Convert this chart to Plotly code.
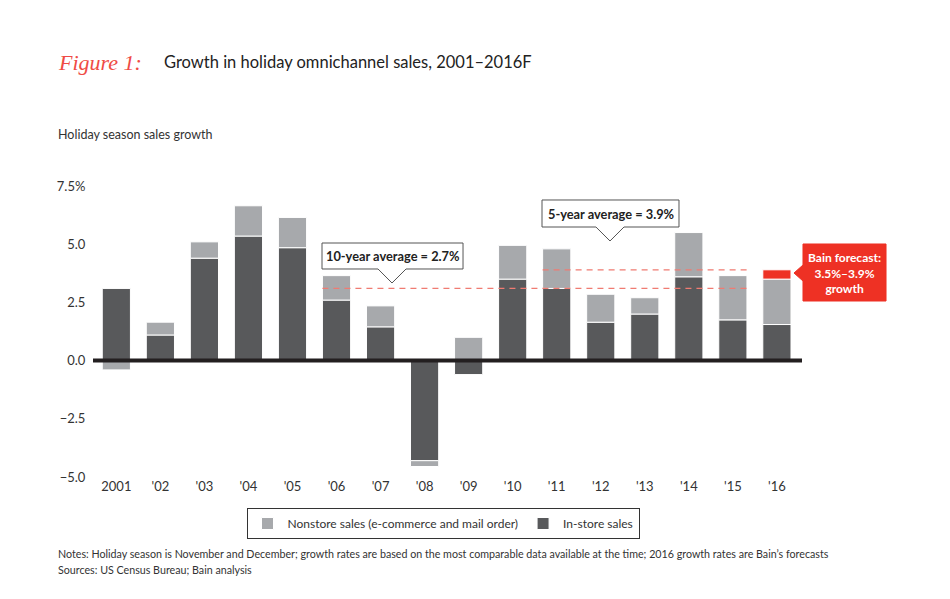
# Holiday omnichannel sales growth, 2001-2016F (stacked bars + average callouts)
import plotly.graph_objects as go

# data
years = ["2001", "'02", "'03", "'04", "'05", "'06", "'07", "'08",
         "'09", "'10", "'11", "'12", "'13", "'14", "'15", "'16"]
instore = [3.1, 1.1, 4.4, 5.35, 4.85, 2.6, 1.45, -4.3,
           -0.6, 3.5, 3.1, 1.65, 2.0, 3.6, 1.75, 1.55]
nonstore = [-0.4, 0.55, 0.7, 1.3, 1.3, 1.05, 0.9, -0.25,
            1.0, 1.45, 1.7, 1.2, 0.7, 1.9, 1.9, 1.95]
forecast_extra = [None] * 15 + [0.4]   # 3.5% -> 3.9% range for 2016

ten_year_line = 3.1     # position of the dashed line as drawn
five_year_line = 3.9
ten_year_span = (5, 14)   # '06 .. '15
five_year_span = (10, 14)  # '11 .. '15

ytick_vals = [7.5, 5.0, 2.5, 0.0, -2.5, -5.0]
ytick_text = ["7.5%", "5.0", "2.5", "0.0", "\u22122.5", "\u22125.0"]

DARK = "#58595b"
LIGHT = "#a7a9ac"
RED = "#ee3124"
FONT = "Lato"

# plot area in screen pixels (the page body adds an 8px margin)
L, R, T, B = 93, 802, 186, 477
OFF = 8
W, H = 950 - OFF, 599 - OFF


def px(x):
    return (x - L) / (R - L)


def py(y):
    return (B - y) / (B - T)


def bubble_down(x0, y0, x1, y1, tx, ty, half):
    pts = [(x0, y0), (x1, y0), (x1, y1), (tx + half, y1), (tx, ty),
           (tx - half, y1), (x0, y1)]
    return "M " + " L ".join(f"{px(a):.4f},{py(b):.4f}" for a, b in pts) + " Z"


def bubble_left(x0, y0, x1, y1, tx, ty, half):
    pts = [(x0, y0), (x1, y0), (x1, y1), (x0, y1), (x0, ty + half),
           (tx, ty), (x0, ty - half)]
    return "M " + " L ".join(f"{px(a):.4f},{py(b):.4f}" for a, b in pts) + " Z"


def text_at(x, y, text, size, color="#333333", xanchor="center", **kw):
    fig.add_annotation(x=px(x), y=py(y), xref="paper", yref="paper",
                       xanchor=xanchor, yanchor="middle", showarrow=False,
                       text=text, font=dict(size=size, color=color, **kw))


fig = go.Figure()
fig.add_trace(go.Bar(x=years, y=instore, name="In-store sales",
                     marker=dict(color=DARK, line=dict(color="white", width=1))))
fig.add_trace(go.Bar(x=years, y=nonstore, name="Nonstore sales (e-commerce and mail order)",
                     marker=dict(color=LIGHT, line=dict(color="white", width=1))))
fig.add_trace(go.Bar(x=years, y=forecast_extra, showlegend=False,
                     marker=dict(color=RED, line=dict(color="white", width=1))))

fig.update_layout(
    width=W, height=H,
    margin=dict(l=L - OFF, r=W - (R - OFF), t=T - OFF, b=H - (B - OFF)),
    barmode="relative", bargap=0.36,
    plot_bgcolor="white", paper_bgcolor="white",
    font=dict(family=FONT, color="#333333", size=12),
    showlegend=True,
    legend=dict(orientation="h", traceorder="reversed",
                x=px(443), xanchor="center", y=py(508), yanchor="top",
                bordercolor="#333333", borderwidth=1,
                font=dict(size=12, color="#333333")),
)
fig.update_xaxes(range=[-0.53, 15.57], showline=False, showgrid=False,
                 ticks="", tickfont=dict(size=13, color="#333333"))
fig.update_yaxes(range=[-5, 7.5], tickvals=ytick_vals, ticktext=ytick_text,
                 showgrid=False, zeroline=False, showline=False,
                 ticks="outside", ticklen=4, tickcolor="white",
                 tickfont=dict(size=13, color="#333333"))

# dashed average lines
for val, (a, b) in [(ten_year_line, ten_year_span), (five_year_line, five_year_span)]:
    fig.add_shape(type="line", xref="x", yref="y", x0=a - 0.32, x1=b + 0.32,
                  y0=val, y1=val, layer="above",
                  line=dict(color="#f07b72", width=1.2, dash="6px,5px"))

# thick zero line
fig.add_shape(type="line", xref="paper", yref="y", x0=0, x1=1, y0=0, y1=0,
              layer="above", line=dict(color="#231f20", width=4))

# callouts
fig.add_shape(type="path", xref="paper", yref="paper", layer="above",
              path=bubble_down(322, 243, 463, 269, 392, 283, 14),
              fillcolor="white", line=dict(color="#555555", width=1))
fig.add_shape(type="path", xref="paper", yref="paper", layer="above",
              path=bubble_down(542, 200, 679, 227, 610, 241, 14),
              fillcolor="white", line=dict(color="#555555", width=1))
fig.add_shape(type="path", xref="paper", yref="paper", layer="above",
              path=bubble_left(803, 244, 886, 301, 794, 273, 8),
              fillcolor=RED, line=dict(color=RED, width=1))

text_at(392.5, 256, "<b>10-year average = 2.7%</b>", 12.8, "#222222")
text_at(610.5, 213.5, "<b>5-year average = 3.9%</b>", 12.8, "#222222")
fig.add_annotation(x=px(844.5), y=py(272.5), xref="paper", yref="paper",
                   xanchor="center", yanchor="middle",
                   text="<b>Bain forecast:<br>3.5%\u20133.9%<br>growth</b>",
                   showarrow=False, align="center",
                   font=dict(size=12, color="white"))

# titles and notes
text_at(56, 63, "<i>Figure 1:</i>", 22, "#ef4b45", xanchor="left",
        family="Liberation Serif")
text_at(162, 62, "Growth in holiday omnichannel sales, 2001\u20132016F", 16.5,
        "#222222", xanchor="left")
text_at(56, 135, "Holiday season sales growth", 12.5, xanchor="left")
text_at(56, 553, "Notes: Holiday season is November and December; growth rates are based "
                 "on the most comparable data available at the time; 2016 growth rates "
                 "are Bain\u2019s forecasts", 10.7, xanchor="left")
text_at(56, 569, "Sources: US Census Bureau; Bain analysis", 10.7, xanchor="left")

fig.write_html("out.html")
